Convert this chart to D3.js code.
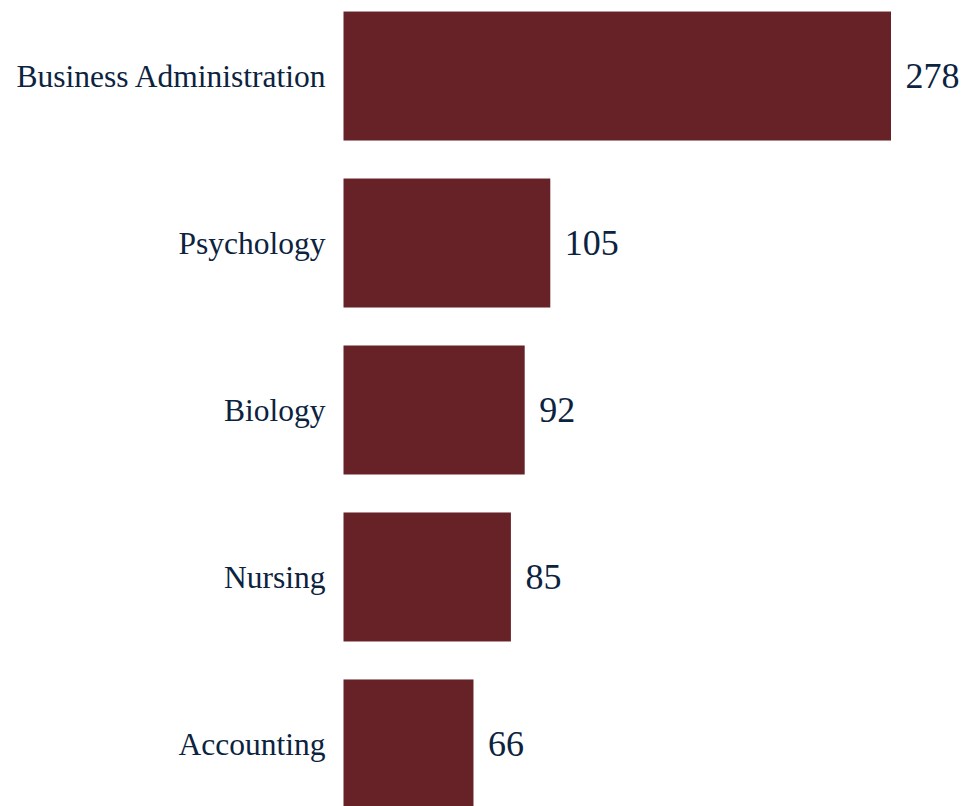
<!DOCTYPE html>
<html>
<head>
<meta charset="utf-8">
<script src="https://cdn.jsdelivr.net/npm/d3@7"></script>
<style>
  html, body { margin: 0; padding: 0; background: #ffffff; overflow: hidden; }
  svg { display: block; }
</style>
</head>
<body>
<svg id="chart" width="963" height="806"></svg>
<script>
const categories = ["Business Administration", "Psychology", "Biology", "Nursing", "Accounting"];
const values = [278, 105, 92, 85, 66];

const W = 963, H = 806;
const barLeft = 343.5;
const svg = d3.select("#chart");

const x = d3.scaleLinear().domain([0, 278]).range([barLeft, 891]);
const y = d3.scaleBand().domain(categories).range([-7.5, 827.5]).paddingInner(0.2275).paddingOuter(0.114);

const data = categories.map((c, i) => ({ c, v: values[i] }));

svg.selectAll("rect.bar").data(data).join("rect")
  .attr("class", "bar")
  .attr("x", x(0))
  .attr("y", d => y(d.c))
  .attr("width", d => x(d.v) - x(0))
  .attr("height", y.bandwidth())
  .attr("fill", "#662226");

svg.selectAll("text.cat").data(data).join("text")
  .attr("class", "cat")
  .attr("x", barLeft - 18)
  .attr("y", d => y(d.c) + y.bandwidth() / 2)
  .attr("dy", "0.36em")
  .attr("text-anchor", "end")
  .attr("font-family", "'Liberation Serif', 'Times New Roman', serif")
  .attr("font-size", 31.5)
  .attr("fill", "#0c2340")
  .text(d => d.c);

svg.selectAll("text.val").data(data).join("text")
  .attr("class", "val")
  .attr("x", d => x(d.v) + 14.5)
  .attr("y", d => y(d.c) + y.bandwidth() / 2)
  .attr("dy", "0.33em")
  .attr("text-anchor", "start")
  .attr("font-family", "'Liberation Serif', 'Times New Roman', serif")
  .attr("font-size", 36)
  .attr("fill", "#0c2340")
  .text(d => d.v);
</script>
</body>
</html>
